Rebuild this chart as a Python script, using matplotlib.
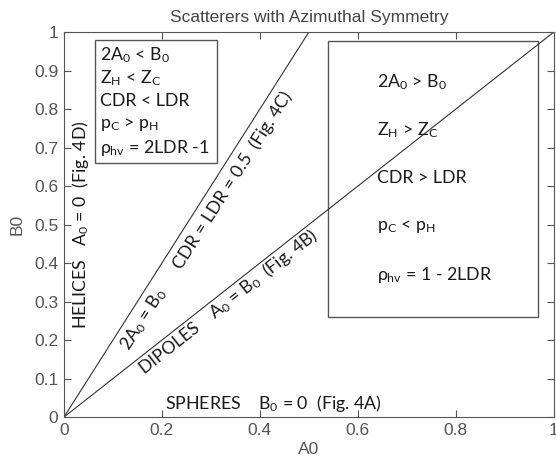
import matplotlib
matplotlib.use('Agg')
import matplotlib.pyplot as plt
from matplotlib.patches import Rectangle

plt.rcParams['font.family'] = ['Liberation Sans', 'DejaVu Sans']
plt.rcParams['mathtext.fontset'] = 'custom'
plt.rcParams['mathtext.rm'] = 'Lato'
plt.rcParams['mathtext.it'] = 'Lato'

# boundary lines in the A0-B0 plane
dipole_a0 = [0, 1]
dipole_b0 = [0, 1]
cdr_a0 = [0, 0.5]
cdr_b0 = [0, 1]
xticks = [0, 0.2, 0.4, 0.6, 0.8, 1]
yticks = [0, 0.1, 0.2, 0.3, 0.4, 0.5, 0.6, 0.7, 0.8, 0.9, 1]
xticklabels = ['0', '0.2', '0.4', '0.6', '0.8', '1']
yticklabels = ['0', '0.1', '0.2', '0.3', '0.4', '0.5', '0.6', '0.7', '0.8', '0.9', '1']

left_lines = [r'2A$_0$ < B$_0$', r'Z$_\mathrm{H}$ < Z$_\mathrm{C}$', 'CDR < LDR',
              r'p$_\mathrm{C}$ > p$_\mathrm{H}$', r'$\rho_\mathrm{hv}$ = 2LDR -1']
right_lines = [r'2A$_0$ > B$_0$', r'Z$_\mathrm{H}$ > Z$_\mathrm{C}$', 'CDR > LDR',
               r'p$_\mathrm{C}$ < p$_\mathrm{H}$', r'$\rho_\mathrm{hv}$ = 1 - 2LDR']

fig = plt.figure(figsize=(5.56, 4.65), dpi=100)
ax = fig.add_axes([0.115, 0.103, 0.881, 0.828])
ln = '#333333'
ax.plot(dipole_a0, dipole_b0, color=ln, lw=0.8)
ax.plot(cdr_a0, cdr_b0, color=ln, lw=0.8)
ax.set_xlim(0, 1)
ax.set_ylim(0, 1)
ax.set_xticks(xticks)
ax.set_yticks(yticks)
ax.set_xticklabels(xticklabels)
ax.set_yticklabels(yticklabels)
ax.tick_params(direction='in', top=True, right=True, labelsize=12.5, colors='#555555', length=5, pad=4)
for s in ax.spines.values():
    s.set_color('#555555')
ax.set_xlabel('A0', fontsize=12.5, color='#555555', labelpad=3)
ax.set_ylabel('B0', fontsize=12.5, color='#555555', labelpad=7)
ax.set_title('Scatterers with Azimuthal Symmetry', fontsize=12.5, color='#444444', pad=7)

tf = dict(family='Lato', color='#1a1a1a')
fs = 12.8
ax.add_patch(Rectangle((0.063, 0.66), 0.249, 0.319, fill=False, ec='#555555', lw=1))
for i, t in enumerate(left_lines):
    ax.text(0.073, 0.94 - i * 0.06, t, fontsize=fs, va='center', ha='left', **tf)

ax.add_patch(Rectangle((0.539, 0.26), 0.428, 0.717, fill=False, ec='#555555', lw=1))
for i, t in enumerate(right_lines):
    ax.text(0.64, 0.87 - i * 0.125, t, fontsize=fs, va='center', ha='left', **tf)

ax.text(0.033, 0.50, r'HELICES   A$_0$ = 0  (Fig. 4D)', rotation=90, fontsize=fs,
        ha='center', va='center', **tf)
ax.text(0.163, 0.255, r'2A$_0$ = B$_0$', rotation=57.5, fontsize=fs,
        ha='center', va='center', **tf)
ax.text(0.345, 0.616, 'CDR = LDR = 0.5  (Fig. 4C)', rotation=57.5, fontsize=fs,
        ha='center', va='center', **tf)
ax.text(0.335, 0.30, r'DIPOLES    A$_0$ = B$_0$  (Fig. 4B)', rotation=38.2, fontsize=fs,
        ha='center', va='center', **tf)
ax.text(0.206, 0.036, r'SPHERES    B$_0$ = 0  (Fig. 4A)', fontsize=fs,
        ha='left', va='center', **tf)

fig.savefig('out.png', dpi=100)
